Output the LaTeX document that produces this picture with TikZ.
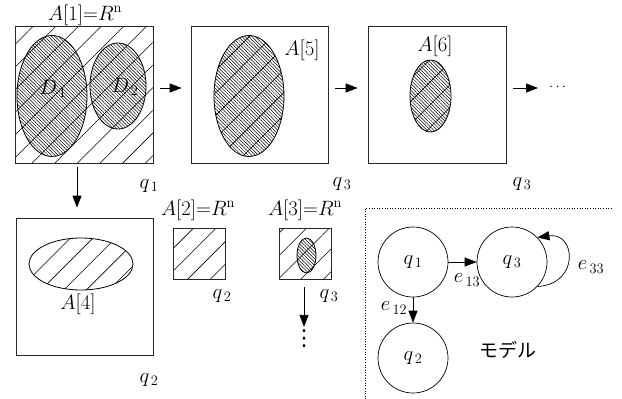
\documentclass[tikz,border=0pt]{standalone}
\usepackage{fontspec}
\newfontfamily\jpfont{Noto Sans CJK JP}
\newfontfamily\dvfont{DejaVu Sans}
\usetikzlibrary{patterns.meta,arrows.meta,shapes.geometric}
\begin{document}
\begin{tikzpicture}[x=1pt,y=-1pt,
  box/.style={draw=black!85, line width=0.7pt, rectangle, inner sep=0pt},
  sparse/.style={pattern={Lines[angle=45,distance=16pt,line width=0.55pt]}},
  dense/.style={pattern={Lines[angle=-45,distance=2.4pt,line width=0.5pt]}},
  blob/.style={draw, ellipse, line width=0.8pt, inner sep=0pt},
  lbl/.style={font=\fontsize{20.74}{24}\selectfont, inner sep=1pt},
  arr/.style={-{Triangle[length=12pt,width=9pt]}, line width=0.7pt},
  state/.style={draw, circle, minimum size=70pt, inner sep=0pt, line width=0.7pt, font=\fontsize{20.74}{24}\selectfont},
]
\useasboundingbox (0,0) rectangle (622,399);

% top row boxes
\node[box, sparse, minimum width=138pt, minimum height=137pt] (b1) at (84,94.5) {};
\node[blob, dense, minimum width=70pt, minimum height=121pt] (d1) at (52,96) {};
\node[blob, dense, minimum width=56pt, minimum height=86pt] (d2) at (118,86) {};
\node[lbl] (d1l) at (53,89) {$D_{\,1}$};
\node[lbl] (d2l) at (125,87) {$D_{\,2}$};
\node[lbl] (t1) at (85,15) {$A[1]$=$R^{\mathrm{n}}$};
\node[lbl] (q1a) at (149,186) {$q_{\,1}$};

\node[box, minimum width=137pt, minimum height=137pt] (b2) at (259.5,94.5) {};
\node[blob, dense, postaction={sparse}, minimum width=70pt, minimum height=121pt] (e5) at (249,96) {};
\node[lbl] (t5) at (302,50.5) {$A[5]$};
\node[lbl] (q3a) at (342,184) {$q_{\,3}$};

\node[box, minimum width=138pt, minimum height=137pt] (b3) at (437,94.5) {};
\node[blob, dense, postaction={sparse}, minimum width=41pt, minimum height=72pt] (e6) at (430.5,96) {};
\node[lbl] (t6) at (435,46) {$A[6]$};
\node[lbl] (q3b) at (522,184) {$q_{\,3}$};

\node[inner sep=0pt, anchor=west, font=\fontsize{15}{17}\selectfont] (dd) at (549,87) {$\cdots$};

% bottom row
\node[box, minimum width=137pt, minimum height=137pt] (b4) at (84.5,286.5) {};
\node[blob, sparse, minimum width=104pt, minimum height=52pt] (e4) at (81,264) {};
\node[lbl] (t4) at (78,304) {$A[4]$};
\node[lbl] (q2a) at (149,380) {$q_{\,2}$};

\draw[arr, shorten <=7pt, shorten >=9pt] ([yshift=6.5pt]b1.east) -- ([yshift=6.5pt]b2.west);
\draw[arr, shorten <=7pt, shorten >=10pt] ([yshift=6.5pt]b2.east) -- ([yshift=6.5pt]b3.west);
\draw[arr, shorten <=7pt, shorten >=11pt] ([yshift=6.5pt]b3.east) -- (dd.west |- 88,88);
\draw[arr, shorten <=4pt, shorten >=10pt] ([xshift=-7pt]b1.south) -- ([xshift=-7.5pt]b4.north);

\node[box, sparse, minimum width=52pt, minimum height=51pt] (a2) at (199,253.5) {};
\node[lbl] (t2) at (198,210) {$A[2]$=$R^{\mathrm{n}}$};
\node[lbl] (q2b) at (222,296) {$q_{\,2}$};

\node[box, sparse, minimum width=52pt, minimum height=51pt] (a3) at (305,253.5) {};
\node[blob, dense, minimum width=19pt, minimum height=35pt] (e3) at (306.5,255.5) {};
\node[lbl] (t3) at (305,210) {$A[3]$=$R^{\mathrm{n}}$};
\node[lbl] (q3c) at (329,296) {$q_{\,3}$};
\node[inner sep=0pt, font=\dvfont\fontsize{22}{24}\selectfont] (vd) at (304,339) {⋮};
\draw[arr, shorten <=8pt, shorten >=3pt] ([xshift=-1pt]a3.south) -- (vd.north);

% model
\draw[dotted, line width=0.6pt] (365,399) -- (365,208) -- (612,208);
\node[state] (q1) at (413,262) {$q_{\,1}$};
\node[state] (q3) at (512,262) {$q_{\,3}$};
\node[state] (q2) at (413,358) {$q_{\,2}$};
\draw[arr] (q1) -- (q3);
\draw[arr] (q1) -- (q2);
\draw[arr] (q3.-44) .. controls (580,284) and (576,232) .. (q3.44);
\node[lbl] (e13) at (467,280) {$e_{\,13}$};
\node[lbl] (e12) at (394,308) {$e_{\,12}$};
\node[lbl] (e33) at (591,267) {$e_{\,33}$};
\node[font=\jpfont\fontsize{19}{22}\selectfont, inner sep=0pt] (model) at (508,350) {モデル};
\end{tikzpicture}
\end{document}
